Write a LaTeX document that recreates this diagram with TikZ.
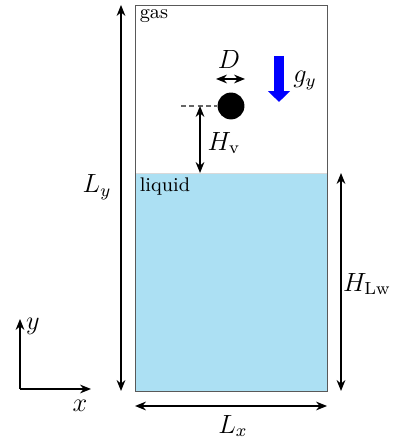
\documentclass[tikz,border=0pt]{standalone}
\usepackage{amsmath}
\usepackage{xcolor}
\usepackage{tikz}
\usetikzlibrary{arrows.meta, positioning, calc}
\definecolor{liquidblue}{RGB}{172,224,243}

\begin{document}
\begin{tikzpicture}[x=0.016cm, y=0.016cm, >={Stealth[length=5pt,width=4pt]},
  lab/.style={font=\large}]
\useasboundingbox (0,0) rectangle (401,443);

% Domain and liquid layer
\coordinate (sw) at (135,52);
\coordinate (ne) at (327,438);
\coordinate (lw) at (135,270);
\coordinate (le) at (327,270);
\fill[liquidblue] (sw) rectangle (le);
\draw[black!15] (lw) -- (le);
\draw[black!65] (sw) rectangle (ne);
\node[anchor=north west, inner sep=2pt, font=\small] (gas) at (ne -| sw) {gas};
\node[anchor=north west, inner sep=2pt, font=\small] (liq) at (lw) {liquid};

% Bubble
\node[circle, fill=black, inner sep=0pt, minimum size=0.43cm] (bub) at (231,337) {};
\coordinate (dl) at (181,337);
\draw[semithick, black!60, dash pattern=on 2.2pt off 1.6pt] (dl) -- (bub.west);
\coordinate (hv) at (200,337);
\draw[<->, semithick] (hv) -- (hv |- lw);
\node[lab] (hvlab) at (224,300) {$H_\mathrm{v}$};
\coordinate (d1) at (216,364);
\coordinate (d2) at (245,364);
\draw[<->, semithick] (d1) -- (d2);
\node[lab] (dlab) at (229,383) {$D$};

% Gravity
\coordinate (g1) at (279,387);
\coordinate (g2) at (279,341);
\draw[blue, line width=4.5pt, -{Triangle[width=9.8pt,length=5pt]}] (g1) -- (g2);
\node[lab] (glab) at (305,362) {$g_y$};

% Dimensions
\coordinate (ly) at (121,52);
\draw[<->, semithick] (ly) -- (ly |- ne);
\node[lab] (lylab) at (97,256) {$L_y$};
\coordinate (hw) at (341,52);
\draw[<->, semithick] (hw) -- (hw |- lw);
\node[lab] (hwlab) at (367,159) {$H_\mathrm{Lw}$};
\coordinate (lx1) at (135,37);
\coordinate (lx2) at (327,37);
\draw[<->, semithick] (lx1) -- (lx2);
\node[lab] (lxlab) at (233,17) {$L_x$};

% Axes
\coordinate (o) at (20,54);
\coordinate (ytip) at (20,124);
\coordinate (xtip) at (91,54);
\draw[->, semithick] (o) -- (ytip);
\draw[->, semithick] (o) -- (xtip);
\node[lab] (ylab) at (33,117) {$y$};
\node[lab] (xlab) at (80,37) {$x$};
\end{tikzpicture}
\end{document}
